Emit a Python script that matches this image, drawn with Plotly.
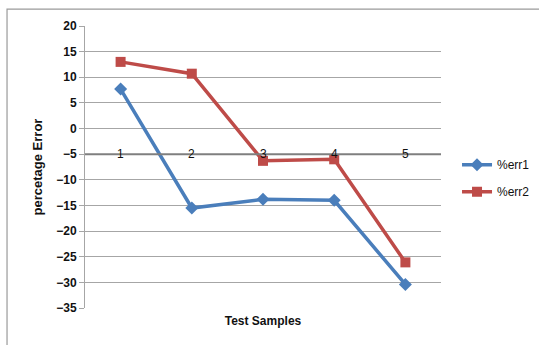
import plotly.graph_objects as go

# Test sample indices and percentage errors for two methods
samples = [1, 2, 3, 4, 5]
sample_labels = ["1", "2", "3", "4", "5"]
err1 = [7.7, -15.5, -13.8, -14.0, -30.4]
err2 = [13.0, 10.7, -6.3, -6.0, -26.1]
y_ticks = [20, 15, 10, 5, 0, -5, -10, -15, -20, -25, -30, -35]
cross_at = -5  # horizontal axis crosses the value axis here

BLUE = "#4A7EBB"
RED = "#BE4B48"
FONT = "Liberation Sans"

fig = go.Figure()
fig.add_trace(go.Scatter(
    x=samples, y=err1, name="%err1", mode="lines+markers", legendgroup="a",
    line=dict(color=BLUE, width=3.5),
    marker=dict(symbol="diamond", size=10, color=BLUE),
))
fig.add_trace(go.Scatter(
    x=samples, y=err2, name="%err2", mode="lines+markers", legendgroup="b",
    line=dict(color=RED, width=3.5),
    marker=dict(symbol="square", size=10, color=RED),
))

# category labels sit on the crossing line
for xv, lab in zip(samples, sample_labels):
    fig.add_annotation(x=xv, y=cross_at, xref="x", yref="y", text=lab,
                       showarrow=False, yanchor="middle", xanchor="center",
                       font=dict(family=FONT, size=12, color="#111"))

# horizontal axis line at the crossing value
fig.add_shape(type="line", xref="paper", yref="y", x0=0, x1=1,
              y0=cross_at, y1=cross_at, line=dict(color="#7f7f7f", width=2),
              layer="above")

# outer chart border
fig.add_shape(type="rect", xref="paper", yref="paper",
              x0=-0.219, x1=1.35, y0=-0.2, y1=1.06,
              line=dict(color="#9a9a9a", width=1.2), fillcolor="rgba(0,0,0,0)")

fig.update_layout(
    width=539, height=345,
    margin=dict(l=85, r=98, t=26, b=37, autoexpand=False),
    paper_bgcolor="white", plot_bgcolor="white",
    font=dict(family=FONT, size=12, color="#111"),
    showlegend=True,
    legend=dict(x=1.045, y=0.46, xanchor="left", yanchor="middle",
                font=dict(family=FONT, size=12, color="#111"),
                tracegroupgap=8, itemwidth=30, bgcolor="rgba(0,0,0,0)"),
    xaxis=dict(range=[0.5, 5.5], showticklabels=False, showgrid=False,
               zeroline=False, showline=False, fixedrange=True,
               title=dict(text="<b>Test Samples</b>", standoff=8,
                          font=dict(family=FONT, size=12, color="#111"))),
    yaxis=dict(range=[-35, 20], tickvals=y_ticks, showgrid=True,
               gridcolor="#a6a6a6", gridwidth=1, zeroline=False,
               showline=True, linecolor="#a6a6a6", linewidth=1,
               ticks="outside", ticklen=5, tickcolor="#a6a6a6",
               tickfont=dict(family=FONT, size=12, color="#111", weight="bold"),
               title=dict(text="<b>percetage Error</b>", standoff=10,
                          font=dict(family=FONT, size=13, color="#111"))),
)

fig.write_html("out.html")
